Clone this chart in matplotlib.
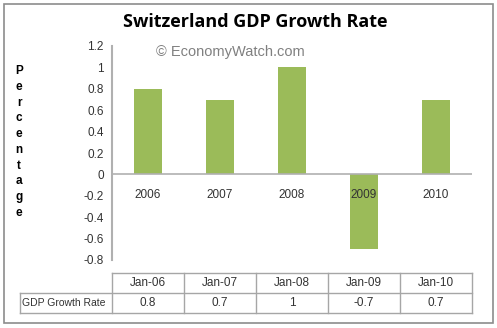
import matplotlib.pyplot as plt
from matplotlib.lines import Line2D
from matplotlib.patches import Rectangle

years = ['2006', '2007', '2008', '2009', '2010']
dates = ['Jan-06', 'Jan-07', 'Jan-08', 'Jan-09', 'Jan-10']
growth = [0.8, 0.7, 1, -0.7, 0.7]
yticks = [-0.8, -0.6, -0.4, -0.2, 0, 0.2, 0.4, 0.6, 0.8, 1, 1.2]

W, H = 497, 328
fig = plt.figure(figsize=(W / 100, H / 100), dpi=100)
plt.rcParams['font.family'] = ['Liberation Sans', 'DejaVu Sans']

def fx(px):
    return px / W

def fy(py):
    return 1 - py / H

# outer frame
fig.patches.append(Rectangle((fx(4), fy(323)), fx(489), 319 / H, transform=fig.transFigure,
                             fill=False, edgecolor='#8c8c8c', linewidth=1.2))

ax = fig.add_axes([fx(112), fy(260), fx(360), (260 - 46) / H])
x = list(range(len(years)))
ax.bar(x, growth, width=0.4, color='#9bbb59')
ax.set_xlim(-0.5, len(years) - 0.5)
ax.set_ylim(-0.8, 1.2)
ax.set_yticks(yticks)
ax.set_yticklabels(['%g' % v for v in yticks], fontsize=8.5, color='#333333')
ax.tick_params(axis='y', length=0, pad=6)
ax.set_xticks([])
for side in ['top', 'right', 'bottom']:
    ax.spines[side].set_visible(False)
ax.spines['left'].set_color('#b0b0b0')
ax.spines['left'].set_linewidth(1.5)
ax.axhline(0, color='#b0b0b0', linewidth=1.2)

for i, yr in enumerate(years):
    ax.text(i, -0.19, yr, ha='center', va='center', fontsize=8.5, color='#333333')

fig.text(fx(255), fy(22), 'Switzerland GDP Growth Rate', ha='center', va='center',
         fontsize=13, fontweight='bold', family=['Open Sans', 'DejaVu Sans'])
fig.text(fx(230), fy(52), '\u00a9 EconomyWatch.com', ha='center', va='center',
         fontsize=10.5, color='#808080')

# vertical axis title, one letter per line
fig.text(fx(19), fy(142), '\n'.join('Percentage'), ha='center', va='center',
         fontsize=8.5, fontweight='bold', linespacing=1.42)

# data table under the chart
grid = '#a6a6a6'
top, mid, bot = fy(273), fy(293), fy(313)
left, right = fx(112), fx(472)
cell = (right - left) / len(years)
for yy in (top, mid, bot):
    x0 = left if yy == top else fx(20)
    fig.add_artist(Line2D([x0, right], [yy, yy], color=grid, linewidth=1))
fig.add_artist(Line2D([fx(20), fx(20)], [mid, bot], color=grid, linewidth=1))
for i in range(len(years) + 1):
    xx = left + i * cell
    fig.add_artist(Line2D([xx, xx], [top, bot], color=grid, linewidth=1))
for i, (d, v) in enumerate(zip(dates, growth)):
    cx = left + (i + 0.5) * cell
    fig.text(cx, (top + mid) / 2, d, ha='center', va='center', fontsize=8.5, color='#333333')
    fig.text(cx, (mid + bot) / 2, '%g' % v, ha='center', va='center', fontsize=8.5, color='#333333')
fig.text(fx(22), (mid + bot) / 2, 'GDP Growth Rate', ha='left', va='center', fontsize=7.5, color='#333333')

fig.savefig('out.png', dpi=100)
